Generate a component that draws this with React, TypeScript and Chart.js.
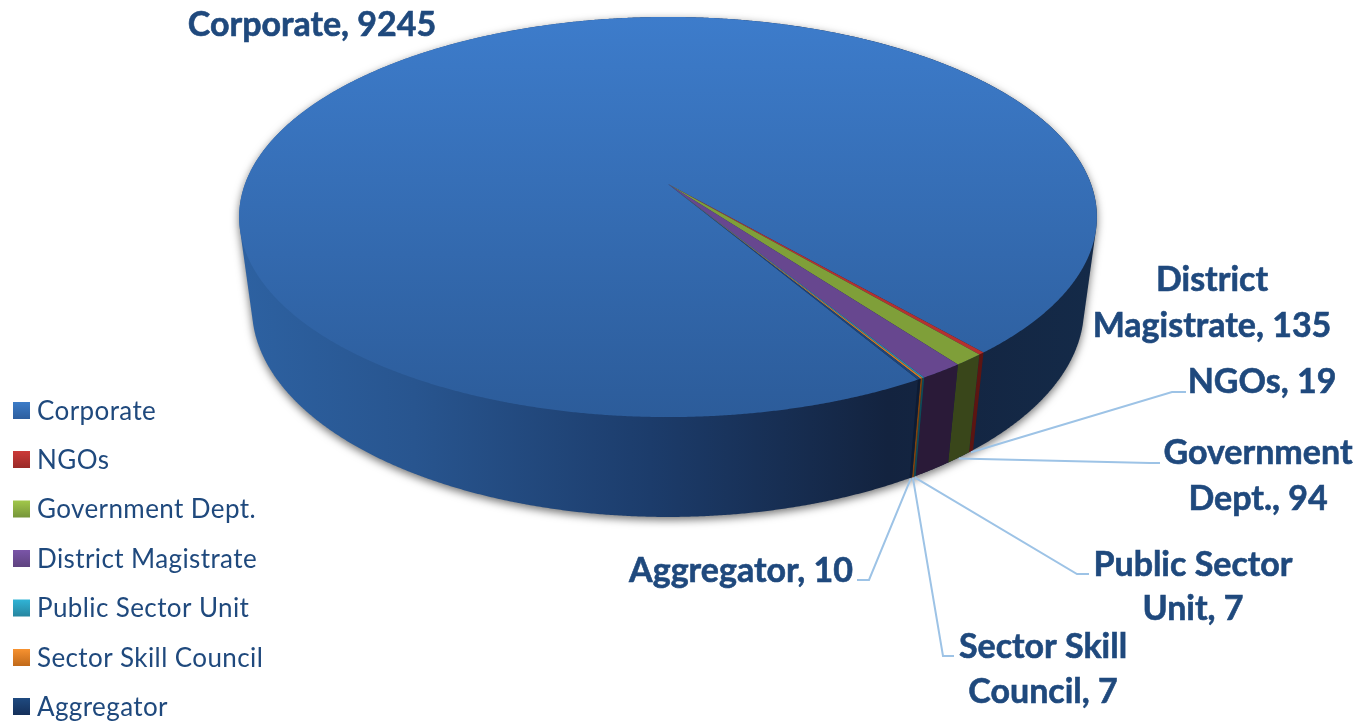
import React, { useEffect, useRef } from "react";
import { Chart, registerables } from "chart.js";

Chart.register(...registerables);

const categories = ["Corporate", "NGOs", "Government Dept.", "District Magistrate", "Public Sector Unit", "Sector Skill Council", "Aggregator"];
const values = [9245, 19, 94, 135, 7, 7, 10];
const topColors = ["#3569ad", "#b5312f", "#7f9f39", "#67478f", "#2b8fae", "#d97b22", "#1f4578"];
const wallColors = ["#14294a", "#5c1512", "#39461a", "#2a1a38", "#0f4a58", "#7f430d", "#0d1b33"];
const legendTop = ["#3c7cc8", "#cc3a38", "#a2c84a", "#7a55a8", "#30b4d6", "#f79230", "#1f4a80"];
const legendBottom = ["#2d5e9e", "#9a2a28", "#76953a", "#5f437f", "#27859f", "#c0691a", "#15305a"];

type LabelSpec = { lines: string[]; cx: number; cy: number[]; leader?: number[][] };
const labelSpecs: LabelSpec[] = [
  { lines: ["Corporate, 9245"], cx: 312, cy: [25] },
  { lines: ["NGOs, 19"], cx: 1262, cy: [382], leader: [[1172, 392], [1186, 392]] },
  { lines: ["Government", "Dept., 94"], cx: 1258, cy: [453, 499], leader: [[1150, 463], [1160, 463]] },
  { lines: ["District", "Magistrate, 135"], cx: 1212, cy: [280, 326] },
  { lines: ["Public Sector", "Unit, 7"], cx: 1193, cy: [565, 609], leader: [[1077, 574], [1089, 574]] },
  { lines: ["Sector Skill", "Council, 7"], cx: 1043, cy: [647, 692], leader: [[943, 656], [954, 656]] },
  { lines: ["Aggregator, 10"], cx: 741, cy: [571], leader: [[869, 580], [857, 580]] },
];
const legendRows = [410.5, 459.5, 509, 558.5, 608, 657.5, 706.5];

const VIEW = { x0: 668, y0: 184, a: 423, b: 194.6, k: 0.165, m: 0.03, n: 93.4 };

function project(angle: number, z: number): [number, number] {
  const u = Math.cos(angle);
  const v = Math.sin(angle);
  const w = 1 - VIEW.k * v + VIEW.m * z;
  return [VIEW.x0 + (VIEW.a * u) / w, VIEW.y0 + (VIEW.b * v + VIEW.n * z) / w];
}

function tracePath(ctx: CanvasRenderingContext2D, a0: number, a1: number, z: number, move: boolean) {
  const steps = Math.max(2, Math.ceil(Math.abs(a1 - a0) / 0.004));
  for (let i = 0; i <= steps; i++) {
    const [x, y] = project(a0 + ((a1 - a0) * i) / steps, z);
    if (i === 0 && move) ctx.moveTo(x, y);
    else ctx.lineTo(x, y);
  }
}

// Outline of the whole drum: the convex hull of the top and bottom rims.
function drumHull(): [number, number][] {
  const pts: [number, number][] = [];
  for (let i = 0; i < 1440; i++) {
    const t = (i / 1440) * Math.PI * 2;
    pts.push(project(t, 0), project(t, 1));
  }
  pts.sort((p, q) => p[0] - q[0] || p[1] - q[1]);
  const cross = (o: number[], p: number[], q: number[]) => (p[0] - o[0]) * (q[1] - o[1]) - (p[1] - o[1]) * (q[0] - o[0]);
  const half = (list: [number, number][]) => {
    const out: [number, number][] = [];
    for (const p of list) {
      while (out.length >= 2 && cross(out[out.length - 2], out[out.length - 1], p) <= 0) out.pop();
      out.push(p);
    }
    out.pop();
    return out;
  };
  return [...half(pts), ...half([...pts].reverse())];
}

const pie3d = {
  id: "pie3d",
  beforeDatasetsDraw(chart: any) {
    const ctx: CanvasRenderingContext2D = chart.ctx;
    const arcs = chart.getDatasetMeta(0).data;

    const wallGrad = ctx.createLinearGradient(245, 0, 1090, 0);
    wallGrad.addColorStop(0, "#2d61a1");
    wallGrad.addColorStop(0.2, "#28558f");
    wallGrad.addColorStop(0.48, "#1c3c6b");
    wallGrad.addColorStop(0.76, "#13233f");
    wallGrad.addColorStop(1, "#142a48");
    const topGrad = ctx.createLinearGradient(0, 17, 0, 417);
    topGrad.addColorStop(0, "#3d7ccb");
    topGrad.addColorStop(1, "#2c5c9a");

    // drum body with its soft shadow
    ctx.save();
    ctx.shadowColor = "rgba(0,0,0,0.55)";
    ctx.shadowBlur = 9;
    ctx.shadowOffsetY = 3;
    ctx.beginPath();
    drumHull().forEach(([x, y], i) => (i === 0 ? ctx.moveTo(x, y) : ctx.lineTo(x, y)));
    ctx.closePath();
    ctx.fillStyle = wallGrad;
    ctx.fill();
    ctx.restore();

    // walls of the small slices
    arcs.forEach((arc: any, i: number) => {
      if (i === 0) return;
      ctx.beginPath();
      tracePath(ctx, arc.startAngle, arc.endAngle, 0, true);
      tracePath(ctx, arc.endAngle, arc.startAngle, 1, false);
      ctx.closePath();
      ctx.fillStyle = wallColors[i];
      ctx.fill();
    });

    // top faces
    arcs.forEach((arc: any, i: number) => {
      ctx.beginPath();
      ctx.moveTo(VIEW.x0, VIEW.y0);
      tracePath(ctx, arc.startAngle, arc.endAngle, 0, false);
      ctx.closePath();
      ctx.fillStyle = i === 0 ? topGrad : arc.options.backgroundColor;
      ctx.fill();
    });

    // leader lines
    ctx.save();
    ctx.strokeStyle = "#9dc3e6";
    ctx.lineWidth = 2;
    arcs.forEach((arc: any, i: number) => {
      const spec = labelSpecs[i];
      if (!spec.leader) return;
      const [sx, sy] = project((arc.startAngle + arc.endAngle) / 2, 1);
      ctx.beginPath();
      ctx.moveTo(sx, sy + 1);
      spec.leader.forEach(([x, y]) => ctx.lineTo(x, y));
      ctx.stroke();
    });
    ctx.restore();

    // data labels
    ctx.save();
    ctx.fillStyle = "#1f497d";
    ctx.strokeStyle = "#1f497d";
    ctx.lineWidth = 0.6;
    ctx.font = "bold 34px Lato";
    ctx.textAlign = "center";
    ctx.textBaseline = "middle";
    labelSpecs.forEach((spec) => {
      spec.lines.forEach((line, j) => {
        ctx.fillText(line, spec.cx, spec.cy[j]);
        ctx.strokeText(line, spec.cx, spec.cy[j]);
      });
    });
    ctx.restore();

    // legend
    ctx.save();
    ctx.font = "26px Lato";
    (ctx as any).letterSpacing = "0.4px";
    ctx.textBaseline = "middle";
    ctx.textAlign = "left";
    chart.data.labels.forEach((label: string, i: number) => {
      const y = legendRows[i];
      const g = ctx.createLinearGradient(0, y - 8.5, 0, y + 8.5);
      g.addColorStop(0, legendTop[i]);
      g.addColorStop(1, legendBottom[i]);
      ctx.fillStyle = g;
      ctx.fillRect(13, y - 8.5, 17, 17);
      ctx.fillStyle = "#1f497d";
      ctx.fillText(label, 37, y + 1);
    });
    ctx.restore();
    return false;
  },
};

export default function App() {
  const ref = useRef<HTMLCanvasElement>(null);
  useEffect(() => {
    const chart = new Chart(ref.current!, {
      type: "pie",
      data: { labels: categories, datasets: [{ data: values, backgroundColor: topColors, borderWidth: 0 }] },
      options: {
        animation: false,
        responsive: false,
        rotation: 149.55,
        plugins: { legend: { display: false }, tooltip: { enabled: false } },
      },
      plugins: [pie3d],
    } as any);
    return () => chart.destroy();
  }, []);
  return (
    <div style={{ position: "absolute", left: 0, top: 0, width: 1362, height: 721, background: "#fff" }}>
      <canvas ref={ref} width={1362} height={721} style={{ display: "block" }} />
    </div>
  );
}
